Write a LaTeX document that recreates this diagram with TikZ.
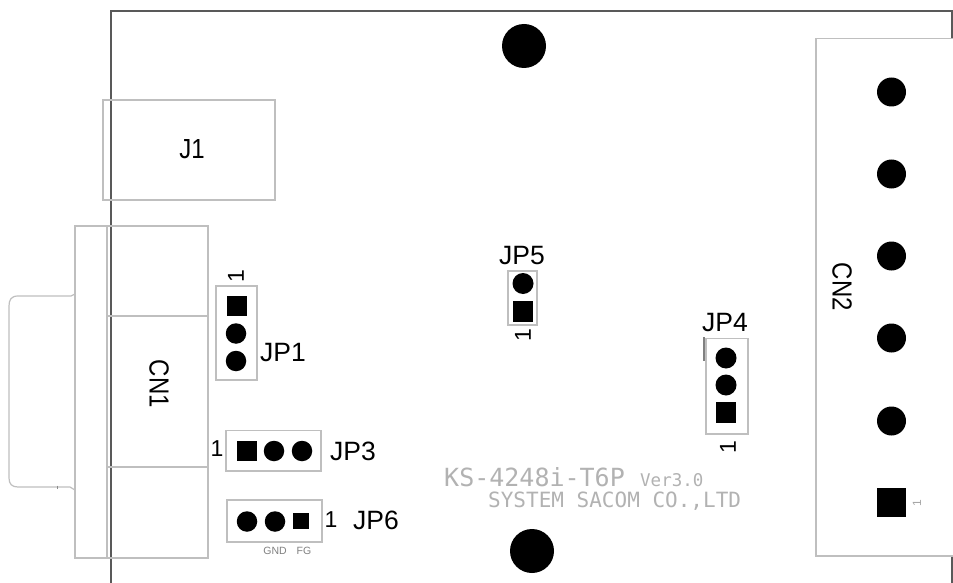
\documentclass[tikz,border=0pt]{standalone}
\usepackage{fontspec}
\usepackage{graphicx}
\setmainfont{Liberation Sans}
\newfontfamily\monof{DejaVu Sans Mono}
\definecolor{outl}{gray}{0.75}
\newcommand{\tallcap}[1]{\scalebox{1}[1.15]{#1}}
\tikzset{
 x=1pt,y=-1pt,
 outlinebox/.style={draw=outl,line width=1.6pt,fill=none},
 hole/.style={circle,fill=black,inner sep=0pt,minimum size=#1},
 padsq/.style={rectangle,fill=black,inner sep=0pt,minimum size=#1},
 lab/.style={inner sep=0pt,text=black,font=\fontsize{26.5}{26.5}\selectfont},
 cnlab/.style={inner sep=0pt,text=black,font=\fontsize{24}{24}\selectfont},
 pinone/.style={inner sep=0pt,text=black,font=\fontsize{23}{23}\selectfont},
 tiny/.style={inner sep=0pt,text=black!50,font=\fontsize{10.5}{10.5}\selectfont},
 silk/.style={inner sep=0pt,anchor=west,text=black!30},
}
\begin{document}
\begin{tikzpicture}
\useasboundingbox (0,0) rectangle (953,583);
\fill[white] (0,0) rectangle (953,583);
% board
\draw[draw=black!65,line width=1.6pt] (111,583)--(111,11)--(953,11);
\draw[draw=black!65,line width=1.2pt] (952,11)--(952,39);
\draw[draw=black!65,line width=1.2pt] (952,556)--(952,583);
% J1
\draw[outlinebox] (103,100) rectangle (275,200);
\node[cnlab] (j1) at (192,149) {\tallcap{J1}};
% CN1
\draw[outlinebox] (75,226) rectangle (208,558);
\draw[outlinebox] (107,226)--(107,558);
\draw[outlinebox] (107,316)--(208,316);
\draw[outlinebox] (107,467)--(208,467);
\draw[draw=outl,line width=1.2pt] (75,294)--(71,296)--(18,296) .. controls (11,296) and (9,300) .. (9,306) -- (9,478) .. controls (9,484) and (12,487) .. (18,487) -- (70,487)--(75,490);
\draw[draw=black!45,line width=0.9pt] (57,485.5)--(57,488.5);
\node[cnlab,rotate=-90] (cn1) at (159,384) {\tallcap{CN1}};
% JP1
\draw[outlinebox] (216,286) rectangle (257,380);
\node[padsq=20.5pt] (p11) at (237,306) {};
\node[hole=20.5pt] (p12) at (236,333.5) {};
\node[hole=20.5pt] (p13) at (236,361) {};
\node[pinone,rotate=90] at (236,276) {1};
\node[lab] at (283,353) {JP1};
% JP3
\draw[outlinebox] (226,430.5) rectangle (321,471);
\node[padsq=20pt] at (246.5,451) {};
\node[hole=20.5pt] at (274,451) {};
\node[hole=20.5pt] at (302,451) {};
\node[pinone] at (217,449) {1};
\node[lab] at (353,451) {JP3};
% JP6
\draw[outlinebox] (227,500) rectangle (322,542);
\node[hole=20.5pt] at (247,521.5) {};
\node[hole=20.5pt] at (275,521.5) {};
\node[padsq=15.5pt] at (301,521) {};
\node[pinone] at (331,520) {1};
\node[lab] at (376,520) {JP6};
\node[tiny] at (275,551) {GND};
\node[tiny] at (304,551) {FG};
% mounting holes
\node[hole=44pt] at (524,46) {};
\node[hole=44pt] at (532,551) {};
% JP5
\draw[outlinebox] (508,271) rectangle (537,325);
\node[hole=21pt] at (523,283.5) {};
\node[padsq=20.5pt] at (523,311.5) {};
\node[pinone,rotate=90] at (523,335) {1};
\node[lab] at (522,256) {JP5};
% JP4
\draw[outlinebox] (706,338.5) rectangle (748,434);
\draw[draw=black!50,line width=1.2pt] (704,337)--(704,361);
\node[hole=21pt] at (726,358) {};
\node[hole=21pt] at (726,385) {};
\node[padsq=20.5pt] at (726,412.5) {};
\node[pinone,rotate=90] at (728,447) {1};
\node[lab] at (725,323) {JP4};
% CN2
\draw[outlinebox] (816,38.5) -- (953,38.5) (816,38.5) -- (816,556) -- (953,556);
\node[hole=29pt] at (891.5,92) {};
\node[hole=29pt] at (891.5,174) {};
\node[hole=29pt] at (891.5,256) {};
\node[hole=29pt] at (891.5,338) {};
\node[hole=29pt] at (891.5,421) {};
\node[padsq=29pt] at (891.5,502.5) {};
\node[cnlab,rotate=-90] (cn2) at (842,287) {\tallcap{CN2}};
\node[inner sep=0pt,text=black!35,font=\fontsize{12}{12}\selectfont,rotate=90] at (917,503) {1};
% silk
\node[silk,font=\monof\fontsize{25}{25}\selectfont] at (444,477.5) {KS-4248i-T6P};
\node[silk,font=\monof\fontsize{17.5}{17.5}\selectfont] at (640,480.5) {Ver3.0};
\node[silk,font=\monof\fontsize{21}{21}\selectfont] at (488,501) {SYSTEM SACOM CO.,LTD};
\end{tikzpicture}
\end{document}
